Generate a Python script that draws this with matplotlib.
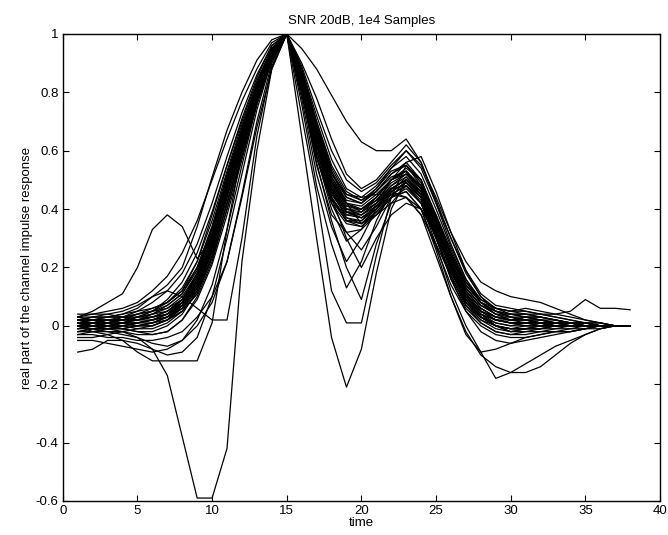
import numpy as np
import matplotlib
matplotlib.use("Agg")
import matplotlib.pyplot as plt

plt.rcParams['font.family'] = ['Liberation Sans', 'DejaVu Sans']

time = list(range(1, 39))

h01 = [0.03,0.05,0.08,0.11,0.20,0.33,0.38,0.34,0.23,0.30, 0.46,0.63,0.80,0.94,1.00,0.84,0.63,0.47,0.39,0.38, 0.42,0.47,0.50,0.45,0.33,0.20,0.10,0.05,0.03,0.02, 0.03,0.02,0.01,0.01,0.00,0.00,0.00,0.00]
h02 = [0.01,0.00,-0.01,-0.02,-0.04,-0.08,-0.17,-0.38,-0.59,-0.59, -0.42,0.22,0.60,0.88,1.00,0.86,0.66,0.50,0.42,0.40, 0.43,0.48,0.51,0.45,0.33,0.20,0.10,0.04,0.00,-0.02, -0.01,0.00,0.01,0.01,0.00,0.00,0.00,0.00]
h03 = [0.02,0.02,0.01,0.01,0.00,0.00,0.02,0.06,0.14,0.28, 0.46,0.64,0.80,0.93,1.00,0.65,0.30,-0.04,-0.21,-0.08, 0.18,0.40,0.50,0.46,0.34,0.22,0.12,0.06,0.03,0.02, 0.02,0.01,0.01,0.00,0.00,0.00,0.00,0.00]
h04 = [0.00,0.01,0.02,0.02,0.03,0.04,0.06,0.10,0.18,0.32, 0.50,0.66,0.82,0.95,1.00,0.72,0.45,0.12,0.01,0.01, 0.24,0.44,0.55,0.50,0.36,0.22,0.11,0.05,0.02,0.01, 0.00,0.00,0.01,0.01,0.00,0.00,0.00,0.00]
h05 = [0.00,0.01,0.01,0.02,0.02,0.03,0.05,0.09,0.17,0.30, 0.48,0.65,0.81,0.94,1.00,0.95,0.88,0.79,0.70,0.63, 0.60,0.60,0.64,0.56,0.42,0.28,0.16,0.08,0.04,0.02, 0.01,0.01,0.00,0.00,0.00,0.00,0.00,0.00]
h06 = [-0.02,-0.01,0.00,0.01,0.01,0.02,0.04,0.08,0.16,0.30, 0.48,0.65,0.82,0.95,1.00,0.86,0.68,0.52,0.44,0.42, 0.46,0.52,0.55,0.48,0.36,0.24,0.14,0.08,0.05,0.04, 0.04,0.04,0.04,0.05,0.09,0.06,0.06,0.055]
h07 = [0.01,0.01,0.00,0.00,0.01,0.02,0.03,0.06,0.12,0.24, 0.42,0.60,0.78,0.92,1.00,0.82,0.60,0.45,0.38,0.38, 0.42,0.47,0.48,0.42,0.28,0.12,0.00,-0.09,-0.18,-0.16, -0.13,-0.10,-0.07,-0.05,-0.03,-0.01,0.00,0.00]
h08 = [0.00,-0.01,-0.02,-0.02,-0.03,-0.03,-0.02,0.02,0.10,0.22, 0.40,0.58,0.76,0.91,1.00,0.80,0.58,0.44,0.36,0.34, 0.38,0.42,0.44,0.38,0.24,0.10,-0.02,-0.10,-0.14,-0.16, -0.16,-0.14,-0.10,-0.06,-0.03,-0.01,0.00,0.00]
h09 = [0.00,-0.02,-0.03,-0.05,-0.09,-0.12,-0.12,-0.12,-0.12,0.01, 0.33,0.60,0.80,0.93,1.00,0.84,0.64,0.48,0.40,0.39, 0.43,0.49,0.52,0.46,0.34,0.21,0.10,0.04,0.01,0.00, 0.00,0.00,0.00,0.00,0.00,0.00,0.00,0.00]
h10 = [0.02,0.03,0.03,0.04,0.06,0.10,0.12,0.10,0.06,0.02, 0.02,0.30,0.65,0.89,1.00,0.85,0.66,0.50,0.41,0.40, 0.44,0.50,0.53,0.47,0.35,0.22,0.11,0.05,0.02,0.01, 0.01,0.01,0.00,0.00,0.00,0.00,0.00,0.00]
h11 = [-0.09,-0.08,-0.05,-0.05,-0.06,-0.08,-0.10,-0.09,-0.04,0.10, 0.30,0.52,0.74,0.91,1.00,0.83,0.62,0.46,0.37,0.35, 0.38,0.44,0.47,0.42,0.30,0.17,0.08,0.03,0.00,-0.01, -0.01,0.00,0.00,0.00,0.00,0.00,0.00,0.00]
h12 = [0.03,0.03,0.04,0.05,0.07,0.10,0.14,0.20,0.34,0.51, 0.67,0.80,0.91,0.98,1.00,0.88,0.70,0.54,0.45,0.43, 0.47,0.54,0.58,0.52,0.40,0.27,0.16,0.09,0.06,0.05, 0.04,0.03,0.02,0.01,0.01,0.00,0.00,0.00]
h13 = [-0.03,-0.03,-0.04,-0.04,-0.05,-0.05,-0.04,-0.02,0.03,0.10, 0.22,0.45,0.70,0.90,1.00,0.80,0.55,0.38,0.32,0.33, 0.38,0.44,0.46,0.40,0.27,0.14,0.05,0.00,-0.03,-0.04, -0.04,-0.03,-0.02,-0.02,-0.01,0.00,0.00,0.00]
h14 = [0.01,0.02,0.02,0.01,0.00,0.00,0.02,0.07,0.16,0.30, 0.47,0.64,0.80,0.93,1.00,0.87,0.69,0.53,0.44,0.42, 0.46,0.52,0.56,0.50,0.37,0.24,0.12,0.06,0.03,0.03, 0.02,0.02,0.01,0.01,0.00,0.00,0.00,0.00]
h15 = [-0.01,0.00,0.01,0.02,0.04,0.06,0.08,0.12,0.22,0.38, 0.55,0.71,0.85,0.96,1.00,0.84,0.64,0.49,0.42,0.41, 0.45,0.50,0.52,0.47,0.36,0.23,0.13,0.07,0.04,0.03, 0.03,0.02,0.02,0.01,0.01,0.00,0.00,0.00]
h16 = [0.02,0.01,0.00,-0.01,-0.02,-0.02,0.00,0.04,0.12,0.26, 0.44,0.62,0.79,0.93,1.00,0.83,0.62,0.46,0.38,0.37, 0.41,0.47,0.50,0.45,0.33,0.19,0.09,0.03,0.01,0.00, 0.01,0.01,0.00,0.00,0.00,0.00,0.00,0.00]
h17 = [0.03,0.04,0.04,0.03,0.02,0.02,0.03,0.06,0.13,0.27, 0.46,0.63,0.79,0.93,1.00,0.88,0.72,0.57,0.47,0.44, 0.48,0.54,0.60,0.54,0.42,0.30,0.18,0.10,0.06,0.05, 0.06,0.05,0.04,0.03,0.02,0.01,0.00,0.00]
h18 = [-0.04,-0.04,-0.03,-0.02,-0.01,0.00,0.02,0.05,0.11,0.24, 0.42,0.61,0.79,0.93,1.00,0.81,0.58,0.42,0.35,0.34, 0.39,0.45,0.48,0.43,0.30,0.16,0.06,0.01,-0.02,-0.03, -0.02,-0.02,-0.01,-0.01,0.00,0.00,0.00,0.00]
h19 = [0.00,0.00,0.01,0.03,0.05,0.08,0.12,0.18,0.28,0.42, 0.58,0.73,0.86,0.96,1.00,0.85,0.66,0.51,0.43,0.42, 0.47,0.53,0.55,0.49,0.37,0.24,0.13,0.07,0.04,0.04, 0.04,0.03,0.02,0.01,0.01,0.00,0.00,0.00]
h20 = [0.02,0.02,0.02,0.02,0.03,0.03,0.04,0.07,0.13,0.25, 0.42,0.60,0.77,0.92,1.00,0.86,0.67,0.51,0.42,0.39, 0.42,0.48,0.52,0.48,0.38,0.26,0.15,0.08,0.05,0.03, 0.02,0.02,0.01,0.01,0.00,0.00,0.00,0.00]
h21 = [-0.02,-0.02,-0.01,0.00,0.00,0.01,0.03,0.08,0.17,0.31, 0.49,0.66,0.82,0.94,1.00,0.82,0.60,0.44,0.37,0.36, 0.40,0.46,0.49,0.44,0.31,0.17,0.07,0.02,0.00,-0.01, -0.01,-0.01,0.00,0.00,0.00,0.00,0.00,0.00]
h22 = [0.01,0.01,0.02,0.02,0.02,0.03,0.05,0.09,0.17,0.31, 0.49,0.66,0.81,0.94,1.00,0.86,0.67,0.52,0.45,0.44, 0.45,0.45,0.44,0.40,0.31,0.20,0.11,0.05,0.02,0.01, 0.01,0.00,0.00,0.00,0.00,0.00,0.00,0.00]
h23 = [0.00,0.00,-0.01,-0.01,0.00,0.01,0.03,0.07,0.14,0.27, 0.45,0.63,0.80,0.93,1.00,0.84,0.63,0.47,0.40,0.40, 0.44,0.50,0.56,0.58,0.46,0.32,0.19,0.10,0.05,0.03, 0.02,0.01,0.01,0.00,0.00,0.00,0.00,0.00]
h24 = [0.01,0.00,0.00,0.01,0.02,0.04,0.07,0.11,0.20,0.34, 0.52,0.68,0.83,0.95,1.00,0.84,0.65,0.49,0.40,0.38, 0.41,0.46,0.49,0.44,0.31,0.16,0.05,-0.02,-0.05,-0.06, -0.05,-0.04,-0.03,-0.02,-0.01,-0.01,0.00,0.00]
h25 = [0.02,0.03,0.03,0.04,0.05,0.06,0.08,0.12,0.20,0.34, 0.51,0.67,0.82,0.94,1.00,0.89,0.74,0.60,0.50,0.46, 0.49,0.55,0.60,0.55,0.44,0.32,0.22,0.15,0.12,0.10, 0.09,0.08,0.06,0.04,0.02,0.01,0.00,0.00]
h26 = [-0.03,-0.02,-0.02,-0.03,-0.04,-0.06,-0.07,-0.05,0.02,0.14, 0.33,0.55,0.76,0.92,1.00,0.83,0.62,0.47,0.39,0.37, 0.40,0.46,0.49,0.44,0.32,0.19,0.09,0.03,0.00,-0.02, -0.02,-0.01,-0.01,0.00,0.00,0.00,0.00,0.00]
h27 = [0.01,0.02,0.03,0.03,0.04,0.05,0.06,0.09,0.15,0.28, 0.46,0.64,0.80,0.93,1.00,0.85,0.64,0.48,0.39,0.37, 0.40,0.45,0.48,0.42,0.30,0.18,0.09,0.04,0.02,0.02, 0.03,0.02,0.01,0.01,0.00,0.00,0.00,0.00]
h28 = [0.00,0.01,0.01,0.00,-0.01,-0.01,0.01,0.05,0.13,0.27, 0.45,0.63,0.80,0.93,1.00,0.82,0.60,0.44,0.36,0.35, 0.39,0.44,0.46,0.40,0.26,0.10,-0.03,-0.09,-0.08,-0.06, -0.04,-0.03,-0.02,-0.02,-0.01,0.00,0.00,0.00]
h29 = [0.02,0.02,0.01,0.01,0.02,0.03,0.04,0.07,0.14,0.28, 0.46,0.64,0.81,0.94,1.00,0.87,0.70,0.55,0.46,0.43, 0.46,0.51,0.53,0.47,0.35,0.23,0.13,0.07,0.05,0.04, 0.03,0.03,0.02,0.01,0.01,0.00,0.00,0.00]
h30 = [-0.01,-0.01,-0.01,0.00,0.01,0.01,0.02,0.05,0.11,0.23, 0.40,0.59,0.77,0.92,1.00,0.84,0.64,0.49,0.41,0.40, 0.44,0.50,0.53,0.47,0.34,0.20,0.09,0.03,0.00,-0.01, 0.00,0.00,0.00,0.00,0.00,0.00,0.00,0.00]
h31 = [0.01,0.00,0.00,0.01,0.03,0.05,0.08,0.13,0.22,0.36, 0.53,0.69,0.83,0.95,1.00,0.80,0.58,0.42,0.32,0.26, 0.34,0.44,0.50,0.46,0.35,0.22,0.11,0.05,0.02,0.01, 0.01,0.00,0.00,0.00,0.00,0.00,0.00,0.00]
h32 = [-0.02,-0.01,-0.01,-0.01,0.00,0.01,0.03,0.07,0.15,0.29, 0.47,0.65,0.81,0.94,1.00,0.78,0.52,0.34,0.22,0.30, 0.40,0.47,0.50,0.45,0.33,0.19,0.08,0.02,-0.01,-0.02, -0.01,-0.01,0.00,0.00,0.00,0.00,0.00,0.00]
h33 = [0.00,0.01,0.02,0.03,0.04,0.05,0.07,0.11,0.19,0.33, 0.50,0.67,0.82,0.94,1.00,0.76,0.48,0.28,0.13,0.22, 0.36,0.46,0.51,0.46,0.34,0.21,0.10,0.04,0.02,0.01, 0.01,0.01,0.00,0.00,0.00,0.00,0.00,0.00]
h34 = [0.02,0.02,0.03,0.03,0.03,0.04,0.05,0.08,0.14,0.26, 0.44,0.62,0.79,0.93,1.00,0.80,0.56,0.36,0.20,0.09, 0.28,0.42,0.48,0.44,0.33,0.21,0.11,0.05,0.03,0.02, 0.02,0.01,0.01,0.00,0.00,0.00,0.00,0.00]
h35 = [0.04,0.04,0.05,0.06,0.08,0.12,0.17,0.25,0.36,0.50, 0.64,0.77,0.88,0.97,1.00,0.82,0.58,0.40,0.29,0.33, 0.42,0.50,0.54,0.50,0.38,0.25,0.14,0.08,0.06,0.05, 0.05,0.04,0.03,0.02,0.01,0.01,0.00,0.00]
h36 = [0.00,0.00,0.00,0.01,0.01,0.02,0.04,0.08,0.15,0.28, 0.45,0.62,0.79,0.93,1.00,0.90,0.78,0.64,0.52,0.47, 0.50,0.56,0.62,0.56,0.43,0.30,0.19,0.11,0.07,0.06, 0.05,0.04,0.03,0.02,0.01,0.01,0.00,0.00]
h37 = [-0.05,-0.05,-0.06,-0.07,-0.08,-0.09,-0.08,-0.05,0.00,0.08, 0.22,0.44,0.68,0.88,1.00,0.81,0.58,0.43,0.36,0.36, 0.41,0.47,0.50,0.44,0.31,0.17,0.07,0.01,-0.02,-0.03, -0.03,-0.02,-0.02,-0.01,-0.01,0.00,0.00,0.00]
h38 = [0.03,0.02,0.02,0.02,0.03,0.05,0.09,0.15,0.25,0.39, 0.55,0.70,0.84,0.95,1.00,0.83,0.62,0.46,0.39,0.39, 0.44,0.50,0.53,0.48,0.37,0.25,0.15,0.09,0.06,0.04, 0.03,0.03,0.02,0.01,0.01,0.00,0.00,0.00]
h39 = [-0.01,0.00,0.00,0.00,0.01,0.02,0.04,0.09,0.18,0.33, 0.51,0.67,0.82,0.94,1.00,0.86,0.68,0.53,0.42,0.35, 0.40,0.46,0.44,0.38,0.28,0.17,0.08,0.03,0.00,-0.01, -0.01,-0.01,0.00,0.00,0.00,0.00,0.00,0.00]
h40 = [0.01,0.01,0.00,-0.01,-0.02,-0.03,-0.02,0.02,0.09,0.21, 0.38,0.57,0.76,0.91,1.00,0.83,0.62,0.44,0.30,0.20, 0.30,0.38,0.42,0.40,0.32,0.21,0.12,0.06,0.03,0.02, 0.02,0.01,0.01,0.00,0.00,0.00,0.00,0.00]

series = [h01, h02, h03, h04, h05, h06, h07, h08, h09, h10,
          h11, h12, h13, h14, h15, h16, h17, h18, h19, h20,
          h21, h22, h23, h24, h25, h26, h27, h28, h29, h30,
          h31, h32, h33, h34, h35, h36, h37, h38, h39, h40]

x_ticks = [0, 5, 10, 15, 20, 25, 30, 35, 40]
y_ticks = [-0.6, -0.4, -0.2, 0, 0.2, 0.4, 0.6, 0.8, 1]
y_ticklabels = ['-0.6', '-0.4', '-0.2', '0', '0.2', '0.4', '0.6', '0.8', '1']

fig = plt.figure(figsize=(6.68, 5.35), dpi=100)
ax = fig.add_axes([0.094, 0.0636, 0.894, 0.873])
for s in series:
    ax.plot(time, s, color='black', linewidth=0.9)

ax.set_xlim(0, 40)
ax.set_ylim(-0.6, 1)
ax.set_xticks(x_ticks)
ax.set_yticks(y_ticks)
ax.set_yticklabels(y_ticklabels)
ax.tick_params(direction='in', top=True, right=True, labelsize=9.5, length=4, pad=3)
for sp in ax.spines.values():
    sp.set_linewidth(1.0)
ax.set_title('SNR 20dB, 1e4 Samples', fontsize=9.5, pad=7)
ax.set_xlabel('time', fontsize=9.5, labelpad=0)
ax.set_ylabel('real part of the channel impulse response', fontsize=9.5, labelpad=2)

fig.savefig('out.png', dpi=100)
